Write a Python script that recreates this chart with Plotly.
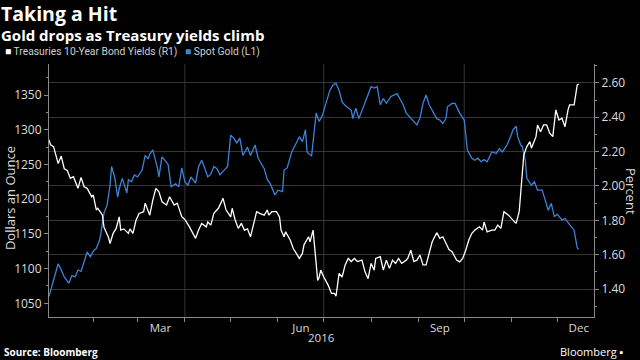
import plotly.graph_objects as go

# ---- Data ----
gold_dates = [
    "2016-01-03", "2016-01-05", "2016-01-09", "2016-01-11", "2016-01-13", "2016-01-16", "2016-01-18",
    "2016-01-20", "2016-01-22", "2016-01-24", "2016-01-26", "2016-01-28", "2016-01-30", "2016-02-01",
    "2016-02-03", "2016-02-05", "2016-02-06", "2016-02-08", "2016-02-10", "2016-02-12", "2016-02-13",
    "2016-02-15", "2016-02-17", "2016-02-18", "2016-02-20", "2016-02-22", "2016-02-23", "2016-02-24",
    "2016-02-26", "2016-02-28", "2016-03-01", "2016-03-04", "2016-03-06", "2016-03-08", "2016-03-09",
    "2016-03-11", "2016-03-13", "2016-03-14", "2016-03-15", "2016-03-17", "2016-03-19", "2016-03-21",
    "2016-03-23", "2016-03-26", "2016-03-28", "2016-03-30", "2016-04-01", "2016-04-03", "2016-04-05",
    "2016-04-08", "2016-04-10", "2016-04-12", "2016-04-14", "2016-04-16", "2016-04-18", "2016-04-20",
    "2016-04-22", "2016-04-24", "2016-04-26", "2016-04-29", "2016-05-01", "2016-05-03", "2016-05-05",
    "2016-05-07", "2016-05-09", "2016-05-12", "2016-05-14", "2016-05-16", "2016-05-17", "2016-05-19",
    "2016-05-21", "2016-05-23", "2016-05-25", "2016-05-27", "2016-05-30", "2016-06-01", "2016-06-04",
    "2016-06-05", "2016-06-07", "2016-06-10", "2016-06-13", "2016-06-15", "2016-06-17", "2016-06-19",
    "2016-06-20", "2016-06-23", "2016-06-26", "2016-06-28", "2016-06-30", "2016-07-03", "2016-07-05",
    "2016-07-07", "2016-07-09", "2016-07-11", "2016-07-13", "2016-07-15", "2016-07-17", "2016-07-19",
    "2016-07-20", "2016-07-22", "2016-07-24", "2016-07-26", "2016-07-28", "2016-07-30", "2016-08-01",
    "2016-08-03", "2016-08-05", "2016-08-07", "2016-08-09", "2016-08-11", "2016-08-14", "2016-08-18",
    "2016-08-20", "2016-08-22", "2016-08-24", "2016-08-28", "2016-08-31", "2016-09-02", "2016-09-04",
    "2016-09-06", "2016-09-08", "2016-09-10", "2016-09-13", "2016-09-15", "2016-09-17", "2016-09-19",
    "2016-09-20", "2016-09-23", "2016-09-25", "2016-09-28", "2016-10-01", "2016-10-03", "2016-10-06",
    "2016-10-08", "2016-10-10", "2016-10-12", "2016-10-14", "2016-10-16", "2016-10-19", "2016-10-22",
    "2016-10-24", "2016-10-26", "2016-10-29", "2016-10-31", "2016-11-02", "2016-11-04", "2016-11-05",
    "2016-11-07", "2016-11-08", "2016-11-10", "2016-11-11", "2016-11-14", "2016-11-16", "2016-11-18",
    "2016-11-21", "2016-11-23", "2016-11-25", "2016-11-27", "2016-11-29", "2016-12-01", "2016-12-04",
    "2016-12-06", "2016-12-08", "2016-12-10", "2016-12-12", "2016-12-14", "2016-12-15",
]
gold_values = [
    1060, 1075, 1107, 1098, 1088, 1079, 1090,
    1088, 1098, 1096, 1110, 1124, 1117, 1125,
    1129, 1140, 1151, 1180, 1191, 1220, 1247,
    1232, 1203, 1215, 1230, 1218, 1209, 1228,
    1225, 1235, 1232, 1242, 1263, 1258, 1265,
    1271, 1256, 1245, 1232, 1261, 1256, 1250,
    1218, 1222, 1218, 1245, 1225, 1220, 1232,
    1223, 1247, 1256, 1245, 1232, 1236, 1247,
    1244, 1235, 1240, 1247, 1292, 1288, 1281,
    1288, 1263, 1275, 1263, 1272, 1278, 1259,
    1252, 1244, 1228, 1222, 1206, 1213, 1211,
    1242, 1245, 1268, 1281, 1290, 1283, 1300,
    1268, 1262, 1324, 1312, 1320, 1343, 1357,
    1364, 1367, 1357, 1340, 1335, 1332, 1328,
    1316, 1331, 1316, 1328, 1340, 1352, 1362,
    1360, 1362, 1336, 1345, 1338, 1348, 1352,
    1343, 1336, 1324, 1314, 1307, 1317, 1338,
    1350, 1336, 1328, 1316, 1314, 1309, 1316,
    1333, 1338, 1338, 1324, 1314, 1271, 1259,
    1256, 1259, 1254, 1257, 1254, 1268, 1266,
    1273, 1268, 1278, 1288, 1300, 1305, 1290,
    1278, 1276, 1256, 1230, 1220, 1225, 1213,
    1213, 1199, 1184, 1194, 1175, 1178, 1170,
    1172, 1166, 1160, 1155, 1130, 1128,
]

yield_dates = [
    "2016-01-03", "2016-01-04", "2016-01-06", "2016-01-08", "2016-01-09", "2016-01-11", "2016-01-13",
    "2016-01-15", "2016-01-17", "2016-01-19", "2016-01-22", "2016-01-24", "2016-01-26", "2016-01-28",
    "2016-01-31", "2016-02-01", "2016-02-03", "2016-02-04", "2016-02-07", "2016-02-08", "2016-02-11",
    "2016-02-12", "2016-02-14", "2016-02-16", "2016-02-18", "2016-02-19", "2016-02-21", "2016-02-24",
    "2016-02-25", "2016-02-27", "2016-02-29", "2016-03-02", "2016-03-05", "2016-03-06", "2016-03-09",
    "2016-03-11", "2016-03-13", "2016-03-15", "2016-03-17", "2016-03-20", "2016-03-22", "2016-03-25",
    "2016-03-27", "2016-03-30", "2016-04-01", "2016-04-04", "2016-04-06", "2016-04-08", "2016-04-10",
    "2016-04-12", "2016-04-15", "2016-04-16", "2016-04-18", "2016-04-20", "2016-04-23", "2016-04-25",
    "2016-04-26", "2016-04-28", "2016-05-01", "2016-05-02", "2016-05-04", "2016-05-06", "2016-05-08",
    "2016-05-10", "2016-05-12", "2016-05-14", "2016-05-16", "2016-05-18", "2016-05-20", "2016-05-23",
    "2016-05-25", "2016-05-26", "2016-05-28", "2016-05-31", "2016-06-02", "2016-06-03", "2016-06-05",
    "2016-06-06", "2016-06-09", "2016-06-11", "2016-06-13", "2016-06-15", "2016-06-17", "2016-06-18",
    "2016-06-21", "2016-06-22", "2016-06-24", "2016-06-25", "2016-06-27", "2016-06-28", "2016-06-29",
    "2016-07-01", "2016-07-04", "2016-07-06", "2016-07-08", "2016-07-09", "2016-07-11", "2016-07-13",
    "2016-07-15", "2016-07-17", "2016-07-19", "2016-07-21", "2016-07-23", "2016-07-26", "2016-07-28",
    "2016-07-30", "2016-08-01", "2016-08-03", "2016-08-04", "2016-08-07", "2016-08-09", "2016-08-11",
    "2016-08-13", "2016-08-15", "2016-08-17", "2016-08-19", "2016-08-21", "2016-08-24", "2016-08-25",
    "2016-08-27", "2016-08-29", "2016-08-31", "2016-09-02", "2016-09-04", "2016-09-06", "2016-09-08",
    "2016-09-10", "2016-09-13", "2016-09-15", "2016-09-17", "2016-09-19", "2016-09-21", "2016-09-23",
    "2016-09-26", "2016-09-28", "2016-09-30", "2016-10-02", "2016-10-04", "2016-10-06", "2016-10-08",
    "2016-10-11", "2016-10-13", "2016-10-14", "2016-10-16", "2016-10-19", "2016-10-21", "2016-10-23",
    "2016-10-25", "2016-10-27", "2016-10-30", "2016-11-01", "2016-11-04", "2016-11-06", "2016-11-08",
    "2016-11-09", "2016-11-11", "2016-11-13", "2016-11-14", "2016-11-17", "2016-11-18", "2016-11-20",
    "2016-11-22", "2016-11-24", "2016-11-26", "2016-11-28", "2016-11-30", "2016-12-02", "2016-12-04",
    "2016-12-06", "2016-12-08", "2016-12-09", "2016-12-12", "2016-12-13", "2016-12-14", "2016-12-15",
]
yield_values = [
    2.268, 2.240, 2.229, 2.170, 2.130, 2.174, 2.100,
    2.090, 2.044, 2.054, 1.986, 2.050, 1.995, 1.986,
    1.937, 1.947, 1.860, 1.870, 1.830, 1.760, 1.700,
    1.665, 1.724, 1.753, 1.820, 1.743, 1.750, 1.724,
    1.750, 1.724, 1.800, 1.840, 1.850, 1.900, 1.830,
    1.918, 1.986, 1.966, 1.908, 1.889, 1.937, 1.889,
    1.900, 1.820, 1.805, 1.762, 1.724, 1.695, 1.743,
    1.782, 1.762, 1.790, 1.772, 1.840, 1.870, 1.908,
    1.928, 1.860, 1.820, 1.870, 1.800, 1.753, 1.782,
    1.743, 1.750, 1.704, 1.782, 1.850, 1.840, 1.830,
    1.860, 1.830, 1.850, 1.850, 1.820, 1.743, 1.704,
    1.733, 1.685, 1.636, 1.607, 1.578, 1.607, 1.656,
    1.704, 1.675, 1.743, 1.655, 1.450, 1.470, 1.510,
    1.470, 1.420, 1.374, 1.374, 1.358, 1.490, 1.470,
    1.540, 1.578, 1.560, 1.578, 1.560, 1.568, 1.500,
    1.460, 1.549, 1.510, 1.578, 1.588, 1.510, 1.568,
    1.520, 1.568, 1.549, 1.578, 1.549, 1.568, 1.578,
    1.626, 1.560, 1.568, 1.597, 1.540, 1.540, 1.607,
    1.675, 1.728, 1.695, 1.704, 1.665, 1.630, 1.617,
    1.568, 1.558, 1.578, 1.626, 1.685, 1.724, 1.743,
    1.762, 1.743, 1.790, 1.733, 1.743, 1.743, 1.772,
    1.753, 1.850, 1.830, 1.810, 1.782, 1.850, 2.090,
    2.180, 2.229, 2.258, 2.220, 2.287, 2.355, 2.316,
    2.355, 2.355, 2.307, 2.287, 2.443, 2.384, 2.394,
    2.345, 2.443, 2.472, 2.472, 2.540, 2.588, 2.594,
]

month_starts = ["2016-02-01", "2016-03-01", "2016-04-01", "2016-05-01", "2016-06-01", "2016-07-01",
                "2016-08-01", "2016-09-01", "2016-10-01", "2016-11-01", "2016-12-01"]
quarter_starts = ["2016-04-01", "2016-07-01", "2016-10-01"]
x_label_dates = ["2016-03-16", "2016-06-16", "2016-09-15", "2016-12-15"]
x_labels = ["Mar", "Jun", "Sep", "Dec"]
x_range = ["2016-01-03", "2016-12-25"]
left_range = [1030.3, 1394.7]
right_range = [1.237, 2.71]

GOLD = "#3f82d8"
AXIS = "#8a8a8a"
GRID = "#363636"
TXT = "#dcdcdc"
FONT = "Open Sans"

fig = go.Figure()
fig.add_trace(go.Scatter(x=gold_dates, y=gold_values, mode="lines", yaxis="y",
                         line=dict(color=GOLD, width=1.3), name="Spot Gold (L1)"))
fig.add_trace(go.Scatter(x=yield_dates, y=yield_values, mode="lines", yaxis="y2",
                         line=dict(color="#ffffff", width=1.3),
                         name="Treasuries 10-Year Bond Yields (R1)"))

for d in quarter_starts:
    fig.add_shape(type="line", xref="x", yref="paper", x0=d, x1=d, y0=0, y1=1,
                  line=dict(color=GRID, width=1), layer="below")

fig.update_layout(
    width=640, height=360,
    paper_bgcolor="#000000", plot_bgcolor="#000000",
    margin=dict(l=49, r=46, t=64, b=43),
    showlegend=False,
    font=dict(family=FONT, color=TXT, size=12),
    xaxis=dict(
        type="date", range=x_range,
        tickmode="array", tickvals=x_label_dates, ticktext=x_labels,
        ticks="", showgrid=False, zeroline=False,
        showline=True, linecolor=AXIS, linewidth=1,
        tickfont=dict(size=11.5, color=TXT),
        minor=dict(tickmode="array", tickvals=month_starts, ticks="outside",
                   ticklen=4, tickcolor=AXIS, showgrid=False),
    ),
    yaxis=dict(
        range=left_range, tickmode="linear", tick0=1050, dtick=50,
        ticks="outside", ticklen=4, tickcolor=AXIS,
        showline=True, linecolor=AXIS, linewidth=1,
        showgrid=False, zeroline=False,
        tickfont=dict(size=12, color=TXT),
        minor=dict(tickmode="linear", tick0=1025, dtick=25, ticks="outside",
                   ticklen=2, tickcolor=AXIS, showgrid=False),
    ),
    yaxis2=dict(
        range=right_range, overlaying="y", side="right", anchor="x",
        tickmode="linear", tick0=1.4, dtick=0.2, tickformat=".2f",
        ticks="outside", ticklen=4, tickcolor=AXIS,
        showline=True, linecolor=AXIS, linewidth=1,
        showgrid=True, gridcolor=GRID, gridwidth=1, zeroline=False,
        tickfont=dict(size=12, color=TXT),
        minor=dict(tickmode="linear", tick0=1.3, dtick=0.1, ticks="outside",
                   ticklen=2, tickcolor=AXIS, showgrid=False),
    ),
)

ann = [
    dict(text='<b><span style="font-size:19.5px">Taking a Hit</span><br>'
              'Gold drops as Treasury yields climb</b>',
         x=-0.0899, y=1.166, xanchor="left", yanchor="middle", align="left",
         font=dict(size=15, color="#ffffff", family=FONT), borderpad=0),
    dict(text='<span style="color:#ffffff">■</span> Treasuries 10-Year Bond Yields (R1)'
              '   <span style="color:' + GOLD + '">■</span> Spot Gold (L1)',
         x=-0.083, y=1.051, xanchor="left", yanchor="middle",
         font=dict(size=10.3, color="#cfcfcf", family="Roboto"), borderpad=0),
    dict(text="Dollars an Ounce", x=-0.0716, y=0.47, xanchor="center", yanchor="middle",
         textangle=-90, font=dict(size=13, color=TXT, family=FONT)),
    dict(text="Percent", x=1.068, y=0.498, xanchor="center", yanchor="middle",
         textangle=90, font=dict(size=13, color=TXT, family=FONT)),
    dict(text="2016", x=0.5, y=-0.083, xanchor="center", yanchor="middle",
         font=dict(size=11.5, color=TXT, family=FONT)),
    dict(text="<b>Source: Bloomberg</b>", x=-0.0863, y=-0.138, xanchor="left", yanchor="middle",
         font=dict(size=10, color="#ffffff", family=FONT)),
    dict(text="Bloomberg ▪", x=1.0587, y=-0.138, xanchor="right", yanchor="middle",
         font=dict(size=11, color="#ffffff", family=FONT)),
]
for a in ann:
    a.update(xref="paper", yref="paper", showarrow=False)
    fig.add_annotation(**a)

fig.write_html(
    "out.html",
    config={"displayModeBar": False},
    post_script="document.body.style.margin='0';document.body.style.background='#000';",
)
